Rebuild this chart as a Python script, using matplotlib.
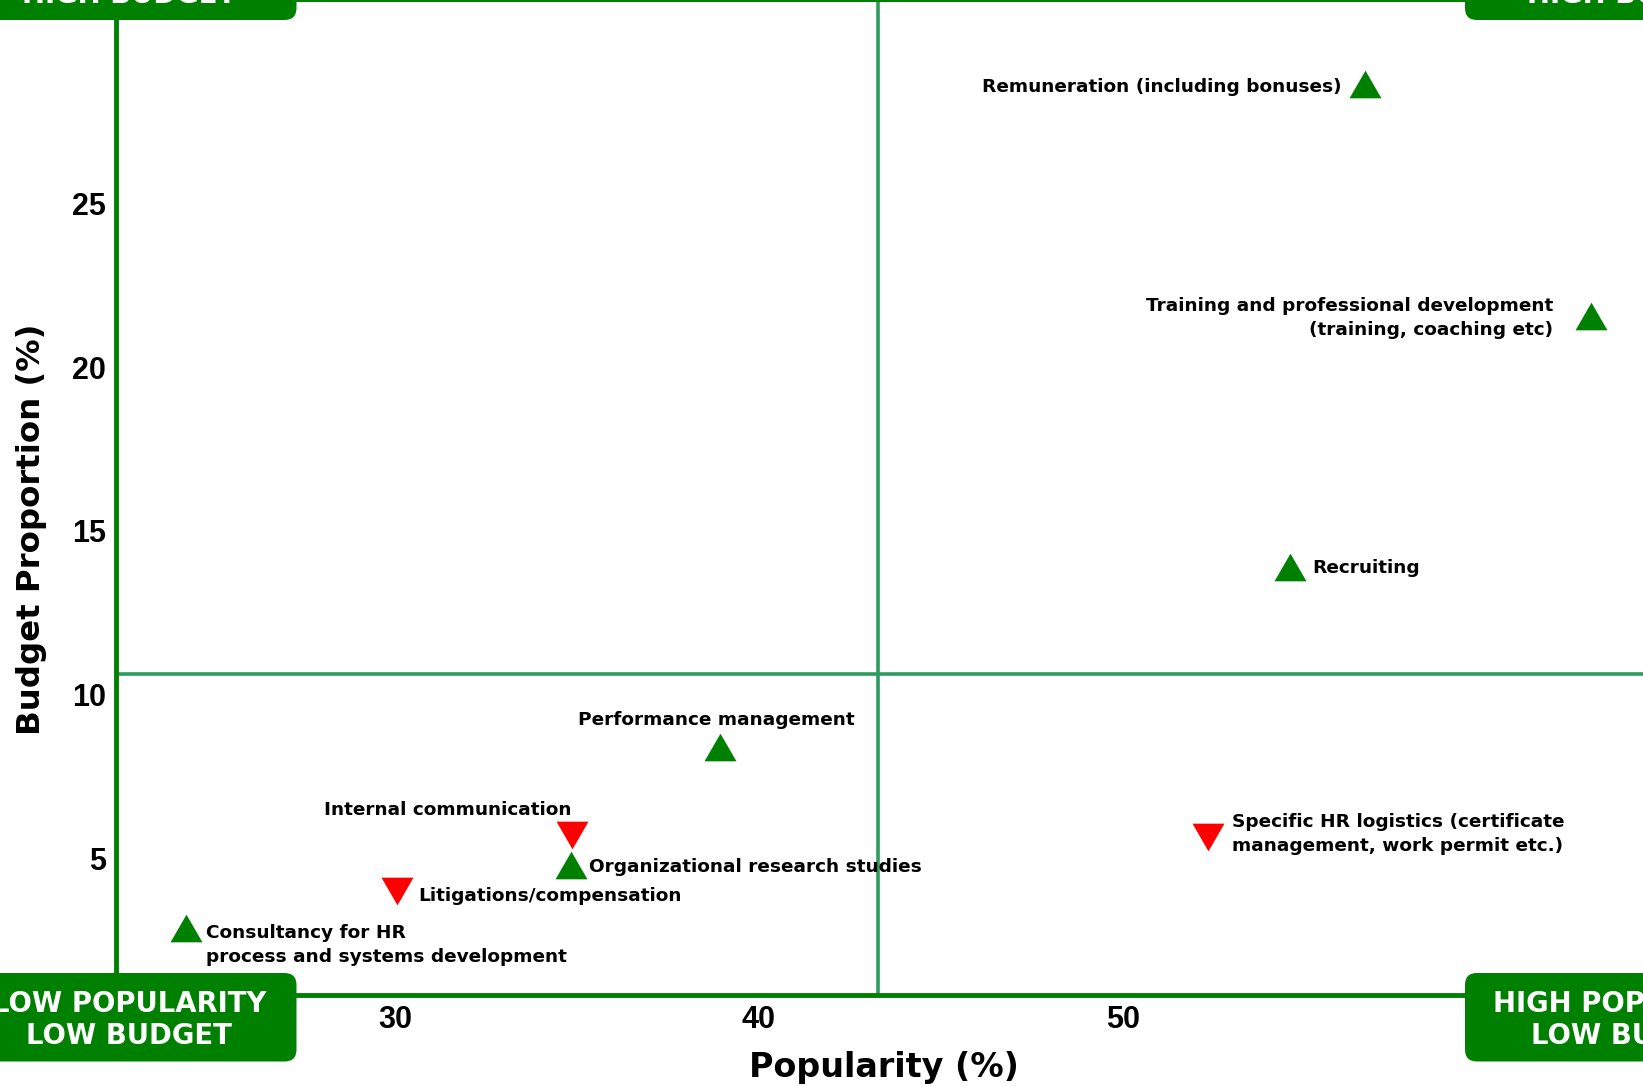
import numpy as np
import matplotlib
matplotlib.use("Agg")
import matplotlib.pyplot as plt
from matplotlib import font_manager
from matplotlib.patches import FancyBboxPatch
from matplotlib.transforms import IdentityTransform

# HR activities: popularity vs budget share
activities = [
    "Remuneration (including bonuses)",
    "Training and professional development\n(training, coaching etc)",
    "Recruiting",
    "Performance management",
    "Internal communication",
    "Organizational research studies",
    "Litigations/compensation",
    "Consultancy for HR\nprocess and systems development",
    "Specific HR logistics (certificate\nmanagement, work permit etc.)",
]
popularity = [56.65, 62.85, 54.58, 38.92, 34.86, 34.83, 30.06, 24.27, 52.33]
budget = [28.65, 21.55, 13.9, 8.4, 5.7, 4.8, 4.0, 2.86, 5.65]
trend = ["up", "up", "up", "up", "down", "up", "down", "up", "down"]

x_ticks = [30, 40, 50]
y_ticks = [5, 10, 15, 20, 25]

quadrants = [
    "LOW POPULARITY\nHIGH BUDGET",
    "HIGH POPULARITY\nHIGH BUDGET",
    "LOW POPULARITY\nLOW BUDGET",
    "HIGH POPULARITY\nLOW BUDGET",
]

# label placement: (dx, dy) in pixels, ha
label_pos = [
    (-24, -3, "right"),
    (-38, -2, "right"),
    (22, -1, "left"),
    (-3, 27, "center"),
    (0, 25, "right"),
    (18, -2, "left"),
    (21, -5, "left"),
    (20, -17, "left"),
    (24, 3, "left"),
]

GREEN = "#008000"
RED = "#ff0000"
LINE = "#2e9b5f"

# regular-width Liberation Sans Bold for the tick numbers
tick_font = None
for f in font_manager.findSystemFonts():
    if f.endswith("LiberationSans-Bold.ttf"):
        tick_font = font_manager.FontProperties(fname=f, size=22)
        break
if tick_font is None:
    tick_font = font_manager.FontProperties(family="Liberation Sans", weight="bold", size=22)

W, H = 1643, 1086
fig = plt.figure(figsize=(W / 100, H / 100), dpi=100)
ax = fig.add_axes([116 / W, 91 / H, 1 - 116 / W, 1 - 91 / H])

ax.set_xlim(22.34, 64.28)
ax.set_ylim(0.82, 31.21)

# equilateral triangles
up_tri = [(-1, -0.866), (1, -0.866), (0, 0.866)]
down_tri = [(-1, 0.866), (1, 0.866), (0, -0.866)]

# quadrant split at the means
ax.axvline(np.mean(popularity), color=LINE, lw=2.6, zorder=1)
ax.axhline(np.mean(budget), color=LINE, lw=2.6, zorder=1)

for name, x, y, t, (dx, dy, ha) in zip(activities, popularity, budget, trend, label_pos):
    if t == "up":
        ax.plot(x, y, marker=up_tri, ms=23, color=GREEN, mec="none", zorder=3)
    else:
        ax.plot(x, y, marker=down_tri, ms=23, color=RED, mec="none", zorder=3)
    ax.annotate(name, (x, y), xytext=(dx, dy), textcoords="offset pixels",
                ha=ha, va="center", multialignment=ha,
                fontsize=13.3, fontweight="bold", family="DejaVu Sans",
                linespacing=1.45, zorder=4)

ax.set_xticks(x_ticks)
ax.set_yticks(y_ticks)
ax.tick_params(length=0, pad=7)
ax.tick_params(axis="x", pad=7)
for lab in ax.get_xticklabels() + ax.get_yticklabels():
    lab.set_fontproperties(tick_font)

for side in ["left", "bottom"]:
    ax.spines[side].set_color(GREEN)
    ax.spines[side].set_linewidth(3.5)
ax.spines["top"].set_color(GREEN)
ax.spines["top"].set_linewidth(2.2)
ax.spines["right"].set_visible(False)

fig.text(884 / W, 19 / H, "Popularity (%)", ha="center", va="center",
         fontsize=24, fontweight="bold", family="DejaVu Sans")
fig.text(32 / W, (H - 529) / H, "Budget Proportion (%)", ha="center", va="center",
         rotation=90, fontsize=23.3, fontweight="bold", family="DejaVu Sans")

# corner boxes (pixel coordinates)
box_w, box_h = 335, 88.5
corners = [(-38.5, 1066), (1465, 1066), (-38.5, 24.5), (1465, 24.5)]
for text, (bx, by) in zip(quadrants, corners):
    fig.patches.append(FancyBboxPatch((bx, by), box_w, box_h,
                                      boxstyle="round,pad=0,rounding_size=12",
                                      transform=IdentityTransform(),
                                      facecolor=GREEN, edgecolor="none", zorder=5))
    cx = 129 if bx < 0 else 1634
    fig.text(cx, by + box_h / 2 - 3, text, transform=IdentityTransform(),
             ha="center", va="center", color="white", fontsize=19.8,
             fontweight="bold", family="DejaVu Sans", linespacing=1.2, zorder=6)

fig.savefig("out.png", dpi=100)
